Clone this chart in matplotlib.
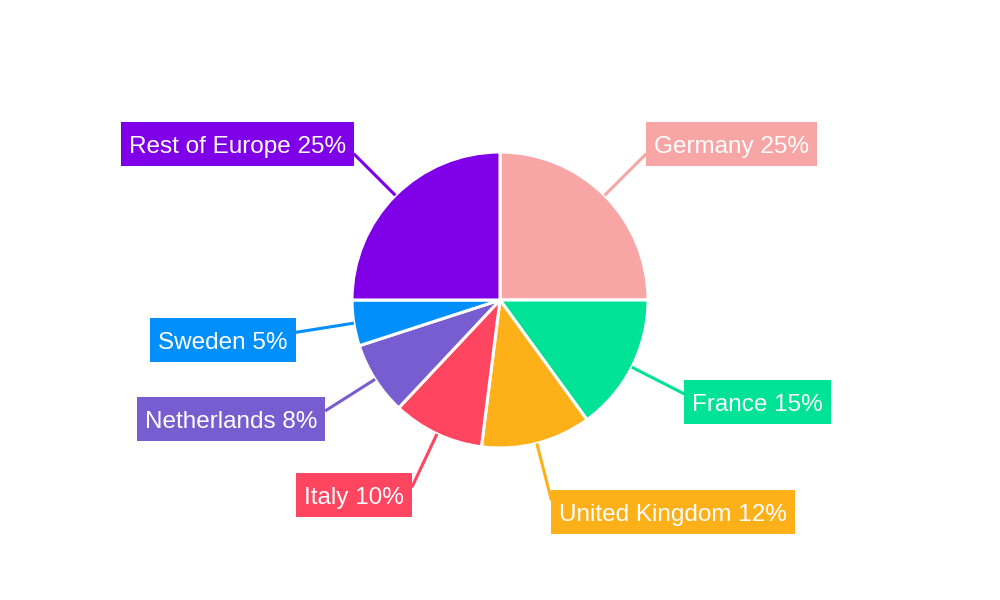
import numpy as np
import matplotlib.pyplot as plt
from matplotlib.patches import Rectangle

plt.rcParams['font.family'] = ['Liberation Sans', 'DejaVu Sans']

# Datos del gráfico
countries = ['Germany', 'France', 'United Kingdom', 'Italy', 'Netherlands', 'Sweden', 'Rest of Europe']
shares = [25, 15, 12, 10, 8, 5, 25]
colors = ['#F8A5A5', '#00E396', '#FEB019', '#FF4560', '#775DD0', '#008FFB', '#7F00E8']

fig = plt.figure(figsize=(10, 6), dpi=100)
ax = fig.add_axes([0, 0, 1, 1])

cx, cy, r = 500, 300, 148
wedges, _ = ax.pie(shares, colors=colors, startangle=90, counterclock=False,
                   center=(cx, cy), radius=r,
                   wedgeprops=dict(edgecolor='white', linewidth=2.2))

# pie() cambia los límites, así que se fijan después
ax.set_xlim(0, 1000)
ax.set_ylim(0, 600)
ax.set_aspect('equal')
ax.axis('off')

renderer = fig.canvas.get_renderer()

# Etiquetas con línea guía y caja de color
for w, name, val, col in zip(wedges, countries, shares, colors):
    ang = np.deg2rad((w.theta1 + w.theta2) / 2)
    dx, dy = np.cos(ang), np.sin(ang)
    x0, y0 = cx + r * dx, cy + r * dy
    x1, y1 = cx + 207 * dx, cy + 207 * dy
    ax.plot([x0, x1], [y0, y1], color=col, lw=2.2, solid_capstyle='butt', zorder=1)

    if dy < -0.95:
        by = y1 - 12
    elif dy > 0:
        by = y1 + 10
    else:
        by = y1 - 8

    if dx > 0:
        t = ax.text(x1 + 8, by - 3, f'{name} {val}%', ha='left', va='center',
                    color='white', fontsize=17.5, zorder=3)
    else:
        t = ax.text(x1 - 8, by - 3, f'{name} {val}%', ha='right', va='center',
                    color='white', fontsize=17.5, zorder=3)
    tw = t.get_window_extent(renderer).width  # 1 px = 1 unidad de datos
    bw = tw + 16
    bx = x1 if dx > 0 else x1 - bw
    ax.add_patch(Rectangle((bx, by - 22), bw, 44, fc=col, ec='none', zorder=2))

fig.savefig('out.png', dpi=100)
